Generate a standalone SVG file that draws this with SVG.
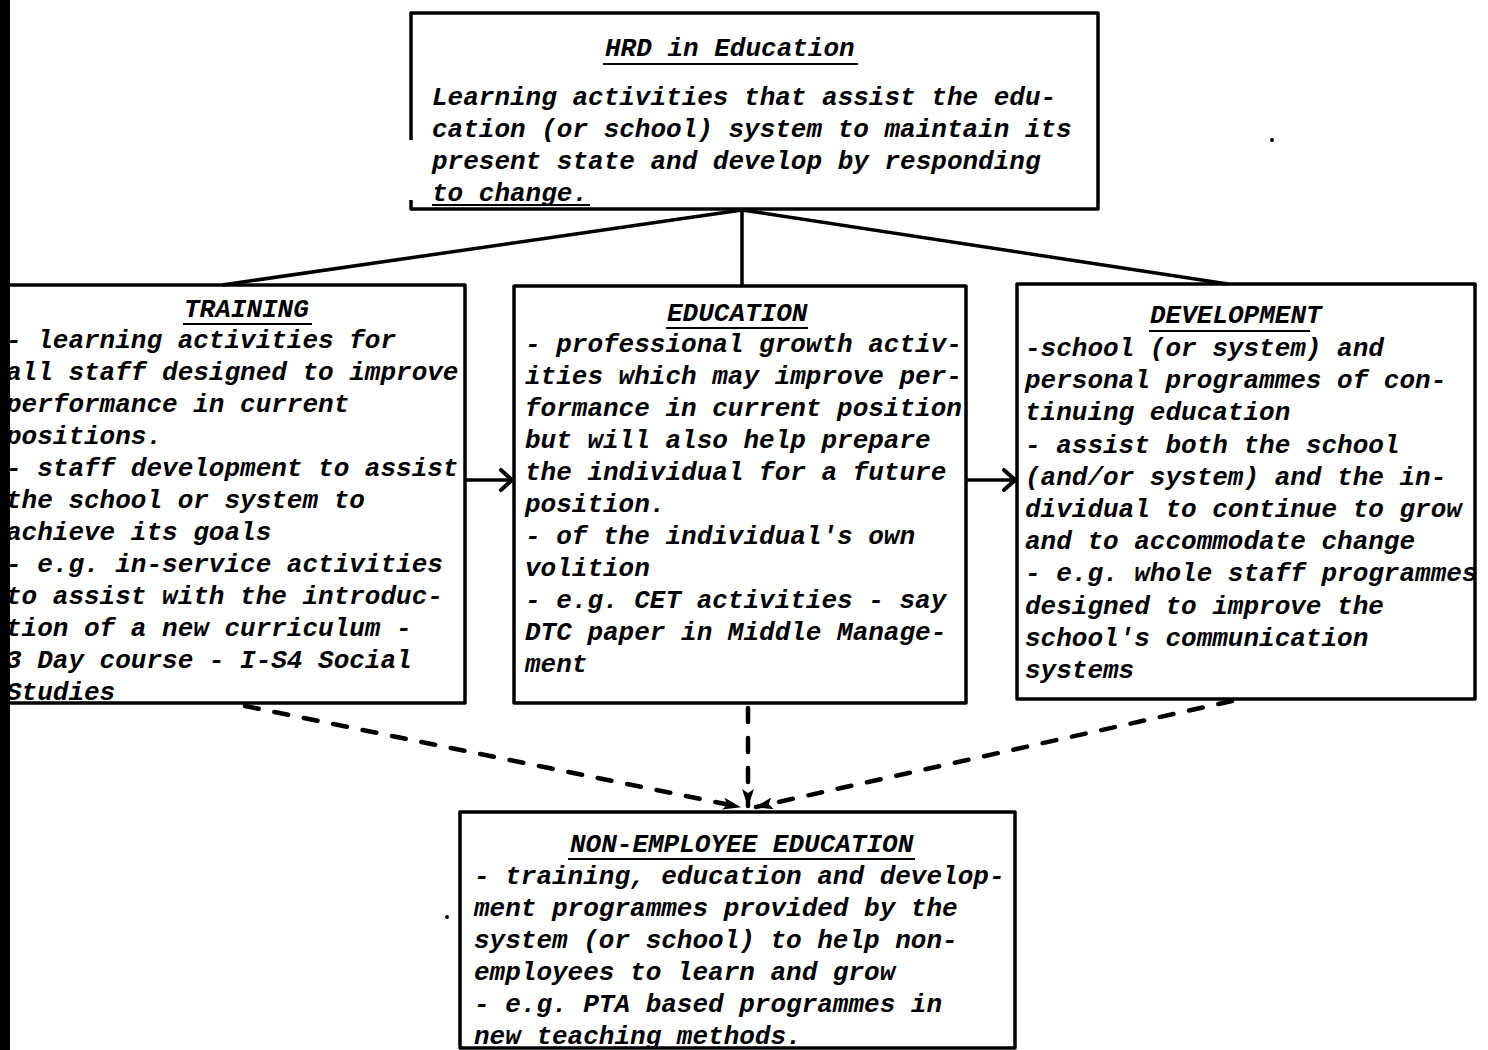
<svg xmlns="http://www.w3.org/2000/svg" width="1488" height="1050" viewBox="0 0 1488 1050">
<defs>
<style>
.t{font-family:"Liberation Mono","Courier New",monospace;font-size:26px;font-style:italic;font-weight:bold;fill:#000}
.box{fill:none;stroke:#000;stroke-width:3.5;stroke-linejoin:round}
.ln{stroke:#000;stroke-width:3.5;fill:none}
.dash{stroke:#000;stroke-width:4.5;stroke-dasharray:14 16;stroke-linecap:round;fill:none}
.ul{stroke:#000;stroke-width:2}
</style>
<marker id="chev" viewBox="0 0 16 24" refX="14" refY="12" markerWidth="16" markerHeight="24" orient="auto" markerUnits="userSpaceOnUse">
<path d="M3,2 L14,12 L3,22" fill="none" stroke="#000" stroke-width="4" stroke-linecap="round"/>
</marker>
<marker id="wedge" viewBox="0 0 18 12" refX="17" refY="6" markerWidth="18" markerHeight="12" orient="auto" markerUnits="userSpaceOnUse">
<path d="M0,0 L18,6 L0,12 L4,6 Z" fill="#000"/>
</marker>
</defs>
<rect width="1488" height="1050" fill="#fff"/>

<g id="hrd">
<path class="box" d="M411,140 V13 H1098 V209 H411 V200"/>
<text class="t" x="605" y="56">HRD in Education</text>
<line class="ul" x1="603" y1="64" x2="858" y2="64"/>
<text class="t" x="432" y="105">Learning activities that assist the edu-</text>
<text class="t" x="432" y="137">cation (or school) system to maintain its</text>
<text class="t" x="432" y="169">present state and develop by responding</text>
<text class="t" x="432" y="201">to change.</text>
<line class="ul" x1="432" y1="205" x2="590" y2="205"/>
</g>

<g id="training">
<path class="box" d="M10,285 H465 V703 H10"/>
<text class="t" x="184" y="317">TRAINING</text>
<line class="ul" x1="183" y1="324" x2="312" y2="324"/>
<text class="t" x="6" y="348">- learning activities for</text>
<text class="t" x="6" y="380">all staff designed to improve</text>
<text class="t" x="6" y="412">performance in current</text>
<text class="t" x="6" y="444">positions.</text>
<text class="t" x="6" y="476">- staff development to assist</text>
<text class="t" x="6" y="508">the school or system to</text>
<text class="t" x="6" y="540">achieve its goals</text>
<text class="t" x="6" y="572">- e.g. in-service activities</text>
<text class="t" x="6" y="604">to assist with the introduc-</text>
<text class="t" x="6" y="636">tion of a new curriculum -</text>
<text class="t" x="6" y="668">3 Day course - I-S4 Social</text>
<text class="t" x="6" y="700">Studies</text>
</g>

<g id="education">
<rect class="box" x="514" y="286" width="452" height="417"/>
<text class="t" x="667" y="321">EDUCATION</text>
<line class="ul" x1="666" y1="328" x2="808" y2="328"/>
<text class="t" x="525" y="352">- professional growth activ-</text>
<text class="t" x="525" y="384">ities which may improve per-</text>
<text class="t" x="525" y="416">formance in current position</text>
<text class="t" x="525" y="448">but will also help prepare</text>
<text class="t" x="525" y="480">the individual for a future</text>
<text class="t" x="525" y="512">position.</text>
<text class="t" x="525" y="544">- of the individual's own</text>
<text class="t" x="525" y="576">volition</text>
<text class="t" x="525" y="608">- e.g. CET activities - say</text>
<text class="t" x="525" y="640">DTC paper in Middle Manage-</text>
<text class="t" x="525" y="672">ment</text>
</g>

<g id="development">
<rect class="box" x="1017" y="284" width="458" height="415"/>
<text class="t" x="1150" y="323">DEVELOPMENT</text>
<line class="ul" x1="1149" y1="331" x2="1310" y2="331"/>
<text class="t" x="1025" y="356">-school (or system) and</text>
<text class="t" x="1025" y="388">personal programmes of con-</text>
<text class="t" x="1025" y="420">tinuing education</text>
<text class="t" x="1025" y="453">- assist both the school</text>
<text class="t" x="1025" y="485">(and/or system) and the in-</text>
<text class="t" x="1025" y="517">dividual to continue to grow</text>
<text class="t" x="1025" y="549">and to accommodate change</text>
<text class="t" x="1025" y="581">- e.g. whole staff programmes</text>
<text class="t" x="1025" y="614">designed to improve the</text>
<text class="t" x="1025" y="646">school's communication</text>
<text class="t" x="1025" y="678">systems</text>
</g>

<g id="nonemployee">
<rect class="box" x="460" y="812" width="555" height="236"/>
<text class="t" x="570" y="852">NON-EMPLOYEE EDUCATION</text>
<line class="ul" x1="568" y1="859" x2="915" y2="859"/>
<text class="t" x="474" y="884">- training, education and develop-</text>
<text class="t" x="474" y="916">ment programmes provided by the</text>
<text class="t" x="474" y="948">system (or school) to help non-</text>
<text class="t" x="474" y="980">employees to learn and grow</text>
<text class="t" x="474" y="1012">- e.g. PTA based programmes in</text>
<text class="t" x="474" y="1044">new teaching methods.</text>
</g>

<g id="connectors">
<line class="ln" x1="742" y1="210" x2="222" y2="285"/>
<line class="ln" x1="742" y1="210" x2="742" y2="286"/>
<line class="ln" x1="742" y1="210" x2="1228" y2="284"/>
<line class="ln" x1="465" y1="480" x2="512" y2="480" marker-end="url(#chev)"/>
<line class="ln" x1="966" y1="480" x2="1015" y2="480" marker-end="url(#chev)"/>
<line class="dash" x1="245" y1="706" x2="740" y2="807" marker-end="url(#wedge)"/>
<line class="dash" x1="748" y1="708" x2="748" y2="806" marker-end="url(#wedge)"/>
<line class="dash" x1="1232" y1="701" x2="756" y2="807" marker-end="url(#wedge)"/>
</g>

<rect x="0" y="0" width="10" height="1050" fill="#000"/>
<circle cx="1272" cy="140" r="2" fill="#000"/>
<circle cx="447" cy="917" r="2" fill="#000"/>
</svg>
